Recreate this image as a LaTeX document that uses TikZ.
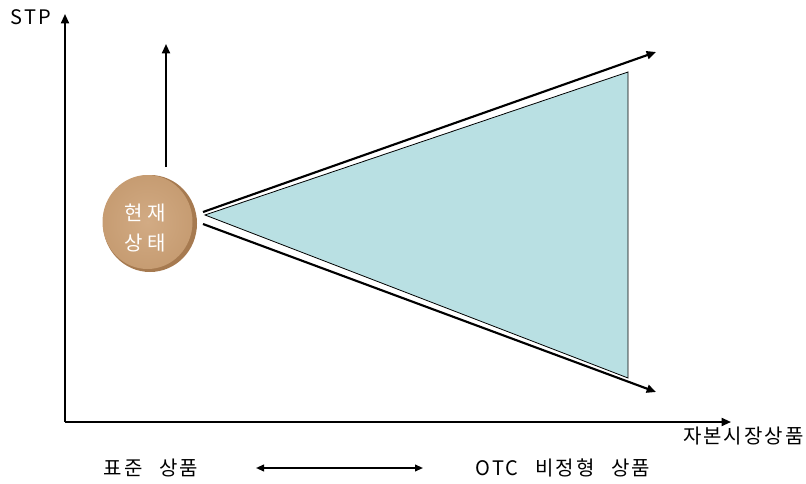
\documentclass[tikz,border=0pt]{standalone}
\usepackage{fontspec}
\setmainfont[LetterSpace=10,WordSpace=2.6]{Noto Sans CJK KR}
\newfontfamily\facefont[LetterSpace=22]{Noto Sans CJK KR}
\usepackage{tikz}
\usetikzlibrary{arrows.meta,positioning}
\definecolor{coin}{HTML}{C69C72}
\definecolor{coinlight}{HTML}{D2AB84}
\definecolor{coinedge}{HTML}{A67A50}
\definecolor{wedge}{HTML}{B9E0E3}

\begin{document}
\begin{tikzpicture}[x=0.75pt,y=0.75pt,>={Triangle[length=7pt,width=6pt]},
 lbl/.style={font=\fontsize{15}{17}\selectfont,inner sep=1pt},
 axis/.style={->,line width=1.3pt},
 ray/.style={->,line width=1.6pt}]
\useasboundingbox (0,0) rectangle (806,483);
% axes
\coordinate (orig) at (65,61);
\coordinate (ytop) at (65,469);
\coordinate (xend) at (731,61);
\draw[axis] (orig) -- (ytop);
\draw[axis] (orig) -- (xend);
\node[lbl] (stp) at (31,466) {STP};
\node[lbl,anchor=east] (capm) at (805,47) {자본시장상품};
% spectrum below the axis
\node[lbl] (std) at (151,15) {표준 상품};
\node[lbl] (otc) at (563,15) {OTC 비정형 상품};
\coordinate (spl) at (256,15);
\coordinate (spr) at (423,15);
\draw[<->,line width=1.3pt,>={Triangle[length=6pt,width=5pt]}] (spl) -- (spr);
% fan of products
\coordinate (apex) at (205,268);
\coordinate (tr) at (628,411);
\coordinate (br) at (628,105);
\draw[fill=wedge,line width=0.6pt] (apex) -- (tr) -- (br) -- cycle;
\coordinate (rs) at (203,259);
\coordinate (re) at (203,271);
\coordinate (rup) at (656,431);
\coordinate (rdn) at (656,91);
\draw[ray] (re) -- (rup);
\draw[ray] (rs) -- (rdn);
% current state
\fill[coinedge] (150,259.5) ellipse (47 and 48.5);
\shade[inner color=coinlight,outer color=coin] (147.5,261) ellipse (45 and 47);
\node[font=\facefont\fontsize{15}{22}\selectfont,text=white,align=center] (now) at (145,255) {현재\\상태};
\coordinate (nowtop) at (166,316);
\coordinate (uptip) at (166,439);
\draw[ray,line width=1.4pt] (nowtop) -- (uptip);
\end{tikzpicture}
\end{document}
